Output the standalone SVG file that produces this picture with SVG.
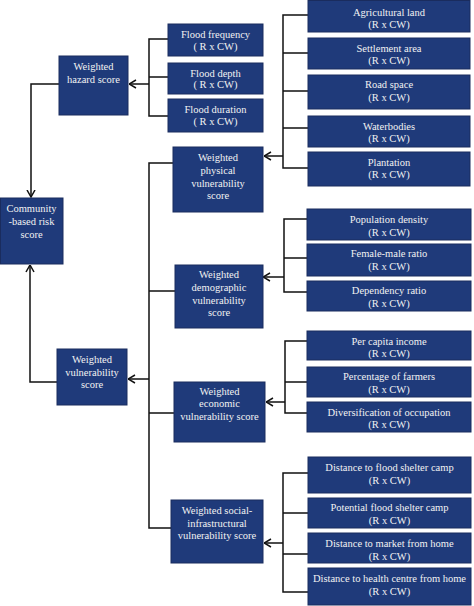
<svg xmlns="http://www.w3.org/2000/svg" width="474" height="606" viewBox="0 0 474 606">
<style>
.box{fill:#1f3a7a;stroke:#1a2c5e;stroke-width:1}
.t{font-family:"Liberation Serif","Times New Roman",serif;font-size:10.5px;fill:#f2f2f2;text-anchor:middle}
.c{fill:none;stroke:#111;stroke-width:1.5}
</style>
<defs>
<marker id="ah" markerUnits="userSpaceOnUse" viewBox="0 0 8 10" markerWidth="8" markerHeight="10" refX="7.5" refY="5" orient="auto">
<path d="M0.5,1 L7.5,5 L0.5,9" fill="none" stroke="#111" stroke-width="1.5"/>
</marker>
</defs>
<rect width="474" height="606" fill="#ffffff"/>
<g id="connectors">
<!-- hazard bracket -->
<path class="c" d="M168,39 H149 V116 H168 M149,77 H168"/>
<path class="c" d="M149,84 H129" marker-end="url(#ah)"/>
<!-- hazard to community -->
<path class="c" d="M59,84 H31 V197" marker-end="url(#ah)"/>
<!-- vulnerability to community -->
<path class="c" d="M57,382 H30 V265" marker-end="url(#ah)"/>
<!-- vulnerability bracket -->
<path class="c" d="M173,163 H149 V528 H171 M149,291 H175 M149,413 H174"/>
<path class="c" d="M149,379 H128" marker-end="url(#ah)"/>
<!-- physical bracket -->
<path class="c" d="M308,15 H283 V168 H308 M283,53 H308 M283,91 H308 M283,128 H308"/>
<path class="c" d="M283,156 H264" marker-end="url(#ah)"/>
<!-- demographic bracket -->
<path class="c" d="M307,219 H284 V292 H307 M284,258 H307"/>
<path class="c" d="M284,277 H263" marker-end="url(#ah)"/>
<!-- economic bracket -->
<path class="c" d="M307,341 H285 V413 H307 M285,382 H307"/>
<path class="c" d="M285,402 H266" marker-end="url(#ah)"/>
<!-- social bracket -->
<path class="c" d="M308,473 H283 V592 H308 M283,513 H308 M283,554 H308"/>
<path class="c" d="M283,543 H264" marker-end="url(#ah)"/>
</g>
<g id="hazard"><rect class="box" x="59" y="56" width="69" height="59"/>
<text class="t" x="93.5" y="70">Weighted</text><text class="t" x="93.5" y="83">hazard score</text></g>
<g id="community"><rect class="box" x="0.5" y="198" width="62.5" height="66"/>
<text class="t" x="31.5" y="212">Community</text><text class="t" x="31.5" y="225">-based risk</text><text class="t" x="31.5" y="238">score</text></g>
<g id="vulnerability"><rect class="box" x="57" y="349" width="70" height="56"/>
<text class="t" x="92" y="363">Weighted</text><text class="t" x="92" y="376">vulnerability</text><text class="t" x="92" y="388">score</text></g>
<g id="flood-frequency"><rect class="box" x="168" y="24" width="95" height="32"/>
<text class="t" x="215.5" y="38">Flood frequency</text><text class="t" x="215.5" y="50">( R x CW)</text></g>
<g id="flood-depth"><rect class="box" x="168" y="63" width="95" height="31"/>
<text class="t" x="215.5" y="77">Flood depth</text><text class="t" x="215.5" y="88">( R x CW)</text></g>
<g id="flood-duration"><rect class="box" x="168" y="99" width="95" height="33"/>
<text class="t" x="215.5" y="113">Flood duration</text><text class="t" x="215.5" y="125">( R x CW)</text></g>
<g id="physical"><rect class="box" x="173" y="147" width="90" height="65"/>
<text class="t" x="218" y="161">Weighted</text><text class="t" x="218" y="174">physical</text><text class="t" x="218" y="187">vulnerability</text><text class="t" x="218" y="199">score</text></g>
<g id="agricultural"><rect class="box" x="308" y="0.5" width="162" height="31.5"/>
<text class="t" x="389" y="16">Agricultural land</text><text class="t" x="389" y="28">(R x CW)</text></g>
<g id="settlement"><rect class="box" x="308" y="38" width="162" height="31"/>
<text class="t" x="389" y="52">Settlement area</text><text class="t" x="389" y="64">(R x CW)</text></g>
<g id="road"><rect class="box" x="308" y="75" width="162" height="34"/>
<text class="t" x="389" y="88">Road space</text><text class="t" x="389" y="101">(R x CW)</text></g>
<g id="waterbodies"><rect class="box" x="308" y="116" width="162" height="31"/>
<text class="t" x="389" y="130">Waterbodies</text><text class="t" x="389" y="142">(R x CW)</text></g>
<g id="plantation"><rect class="box" x="308" y="152" width="162" height="34"/>
<text class="t" x="389" y="166">Plantation</text><text class="t" x="389" y="178">(R x CW)</text></g>
<g id="demographic"><rect class="box" x="175" y="265" width="88" height="63"/>
<text class="t" x="219" y="278">Weighted</text><text class="t" x="219" y="291">demographic</text><text class="t" x="219" y="304">vulnerability</text><text class="t" x="219" y="316">score</text></g>
<g id="population"><rect class="box" x="307" y="209" width="164" height="31"/>
<text class="t" x="389" y="223">Population density</text><text class="t" x="389" y="236">(R x CW)</text></g>
<g id="female-male"><rect class="box" x="307" y="244" width="164" height="32"/>
<text class="t" x="389" y="257">Female-male ratio</text><text class="t" x="389" y="270">(R x CW)</text></g>
<g id="dependency"><rect class="box" x="307" y="281" width="164" height="30"/>
<text class="t" x="389" y="294">Dependency ratio</text><text class="t" x="389" y="307">(R x CW)</text></g>
<g id="economic"><rect class="box" x="174" y="382" width="91" height="60"/>
<text class="t" x="219.5" y="395">Weighted</text><text class="t" x="219.5" y="407">economic</text><text class="t" x="219.5" y="420">vulnerability score</text></g>
<g id="income"><rect class="box" x="307" y="331" width="164" height="29"/>
<text class="t" x="389" y="345">Per capita income</text><text class="t" x="389" y="357">(R x CW)</text></g>
<g id="farmers"><rect class="box" x="307" y="367" width="164" height="30"/>
<text class="t" x="389" y="380">Percentage of farmers</text><text class="t" x="389" y="393">(R x CW)</text></g>
<g id="diversification"><rect class="box" x="307" y="402" width="164" height="30"/>
<text class="t" x="389" y="416">Diversification of occupation</text><text class="t" x="389" y="428">(R x CW)</text></g>
<g id="social"><rect class="box" x="171" y="500" width="92" height="63"/>
<text class="t" x="217" y="514">Weighted social-</text><text class="t" x="217" y="527">infrastructural</text><text class="t" x="217" y="539">vulnerability score</text></g>
<g id="shelter-distance"><rect class="box" x="308" y="457" width="163" height="36"/>
<text class="t" x="389.5" y="471">Distance to flood shelter camp</text><text class="t" x="389.5" y="484">(R x CW)</text></g>
<g id="shelter-potential"><rect class="box" x="308" y="498" width="163" height="30"/>
<text class="t" x="389.5" y="511">Potential flood shelter camp</text><text class="t" x="389.5" y="524">(R x CW)</text></g>
<g id="market"><rect class="box" x="308" y="533" width="163" height="30"/>
<text class="t" x="389.5" y="547">Distance to market from home</text><text class="t" x="389.5" y="560">(R x CW)</text></g>
<g id="health"><rect class="box" x="308" y="568" width="163" height="37"/>
<text class="t" x="389.5" y="582">Distance to health centre from home</text><text class="t" x="389.5" y="595">(R x CW)</text></g>
</svg>
